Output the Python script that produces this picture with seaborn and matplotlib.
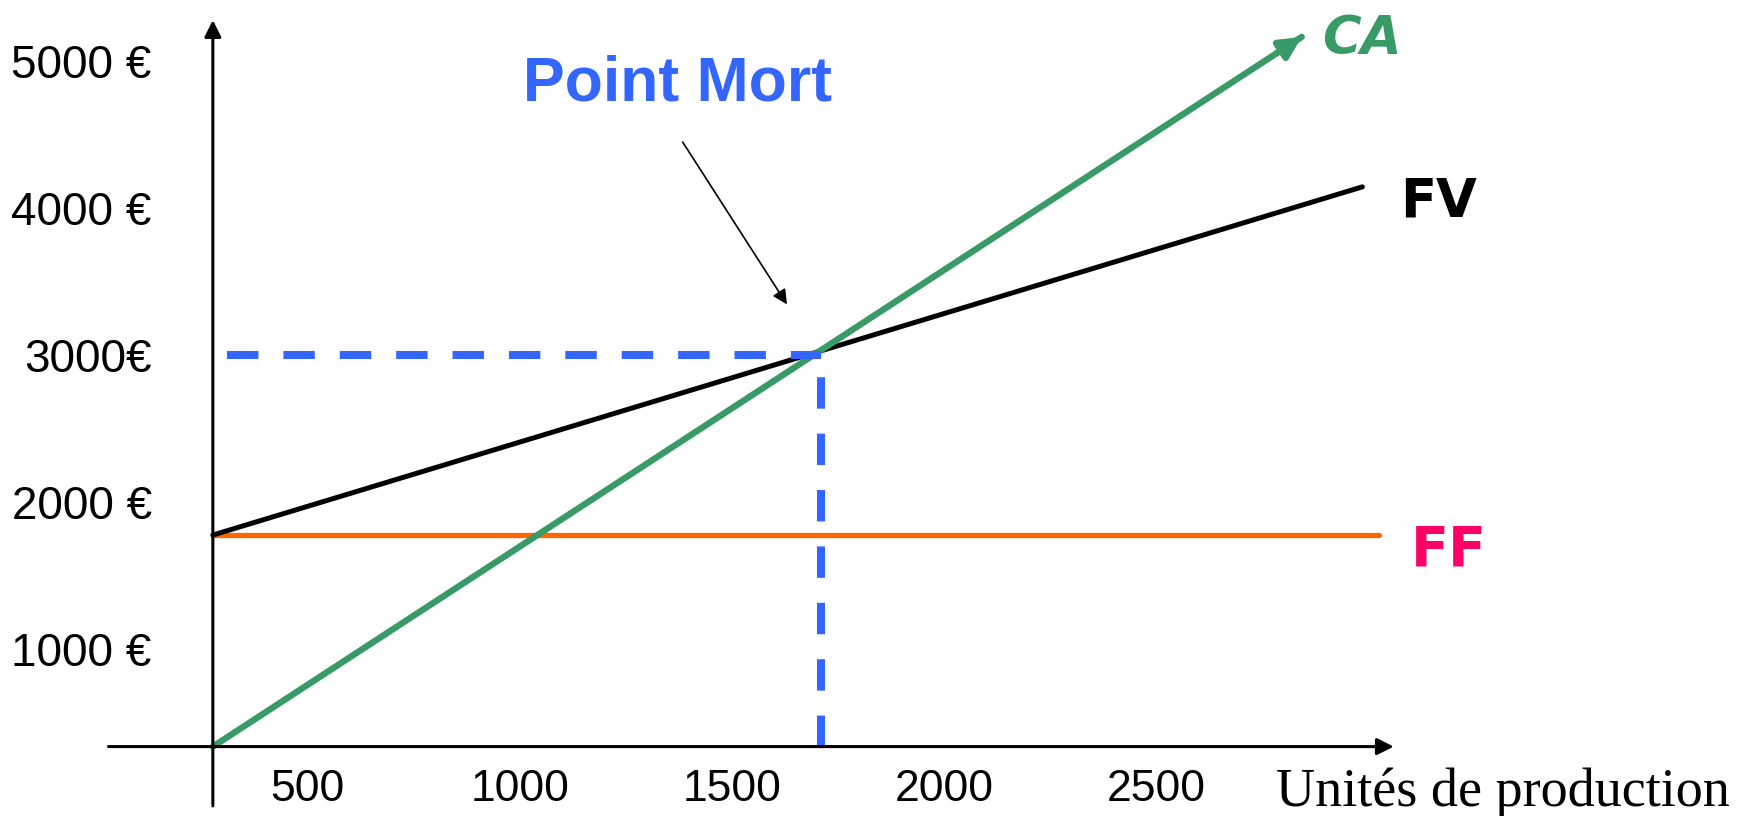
import matplotlib
matplotlib.use('Agg')
import matplotlib.pyplot as plt
import seaborn as sns
import pandas as pd

# ------------------------------------------------------------------
# Values (units produced, euros)
# ------------------------------------------------------------------
axis_origin = (276, 335)          # where the two axes cross
x_axis_end = 3061
y_axis_bottom = -69
y_axis_top = 5280

x_ticks = [500, 1000, 1500, 2000, 2500]
x_tick_labels = ['500', '1000', '1500', '2000', '2500']
y_ticks = [1000, 2000, 3000, 4000, 5000]
y_tick_labels = ['1000 €', '2000 €', '3000€', '4000 €', '5000 €']

ca_units = [276, 2844]
ca_values = [335, 5166]
fv_units = [276, 2987]
fv_values = [1775, 4145]
ff_units = [276, 3026]
ff_values = [1775, 1775]

break_even_units = 1710
break_even_value = 3000
dash_start_units = 310

# colours
green = '#389a66'
orange = '#ff6600'
blue = '#3366ff'
pink = '#ff0066'

sns.set_style('white')
plt.rcParams['font.family'] = ['Liberation Sans', 'DejaVu Sans']
plt.rcParams['text.color'] = 'black'
plt.rcParams['xtick.color'] = 'black'
plt.rcParams['ytick.color'] = 'black'

fig = plt.figure(figsize=(17.55, 8.16), dpi=100)
ax = fig.add_axes([0, 0, 1, 1])

lines = pd.DataFrame({
    'units': ca_units + fv_units + ff_units,
    'value': ca_values + fv_values + ff_values,
    'serie': ['CA'] * 2 + ['FV'] * 2 + ['FF'] * 2,
})

sns.lineplot(data=lines[lines.serie == 'FF'], x='units', y='value',
             color=orange, linewidth=3.8, ax=ax)
sns.lineplot(data=lines[lines.serie == 'FV'], x='units', y='value',
             color='black', linewidth=3.6, ax=ax)
sns.lineplot(data=lines[lines.serie == 'CA'], x='units', y='value',
             color=green, linewidth=4.6, ax=ax)

# arrow head at the end of CA
ax.annotate('', xy=(ca_units[-1], ca_values[-1]),
            xytext=(ca_units[-1] - 60, ca_values[-1] - 113),
            arrowprops=dict(arrowstyle='-|>', color=green, lw=4.6,
                            mutation_scale=32, shrinkA=0, shrinkB=0))

# dashed lines to the break-even point
ax.plot([dash_start_units, break_even_units], [break_even_value, break_even_value],
        color=blue, linewidth=5.8, dashes=(3.9, 3.1))
ax.plot([break_even_units, break_even_units], [axis_origin[1], break_even_value],
        color=blue, linewidth=5.8, dashes=(3.9, 3.1))

# axes drawn as arrows
ax.annotate('', xy=(x_axis_end, axis_origin[1]), xytext=(30, axis_origin[1]),
            arrowprops=dict(arrowstyle='-|>', color='black', lw=2.2,
                            mutation_scale=25, shrinkA=0, shrinkB=0))
ax.annotate('', xy=(axis_origin[0], y_axis_top), xytext=(axis_origin[0], y_axis_bottom),
            arrowprops=dict(arrowstyle='-|>', color='black', lw=2.2,
                            mutation_scale=25, shrinkA=0, shrinkB=0))

ax.set_xlim(-226, 3913)
ax.set_ylim(-137.5, 5417)

for side in ['top', 'right', 'left', 'bottom']:
    ax.spines[side].set_visible(False)
ax.spines['left'].set_position(('data', axis_origin[0]))
ax.spines['bottom'].set_position(('data', axis_origin[1]))

ax.set_xticks(x_ticks, x_tick_labels)
ax.set_yticks(y_ticks, y_tick_labels)
ax.tick_params(axis='x', length=0, labelsize=32, pad=16, labelcolor='black')
ax.tick_params(axis='y', length=0, labelsize=33, pad=44, labelcolor='black')
ax.set_xlabel('')
ax.set_ylabel('')

# labels
ax.text(1371, 4846, 'Point Mort', color=blue, fontsize=45, fontweight='bold',
        ha='center', va='center')
ax.annotate('', xy=(1630, 3345), xytext=(1384, 4450),
            arrowprops=dict(arrowstyle='-|>', color='black', lw=1.2,
                            mutation_scale=22, shrinkA=0, shrinkB=0))
ax.text(2987, 5150, 'CA', color=green, fontsize=38, fontweight='bold',
        fontstyle='italic', family='DejaVu Sans', ha='center', va='center')
ax.text(3166, 4046, 'FV', color='black', fontsize=38, fontweight='bold',
        family='DejaVu Sans', ha='center', va='center')
ax.text(3190, 1669, 'FF', color=pink, fontsize=40, fontweight='bold',
        family='DejaVu Sans', ha='center', va='center')
ax.text(2784, -69, 'Unités de production', color='black', fontsize=39,
        family='Liberation Serif', ha='left', va='baseline')

fig.savefig('out.png', dpi=100)
